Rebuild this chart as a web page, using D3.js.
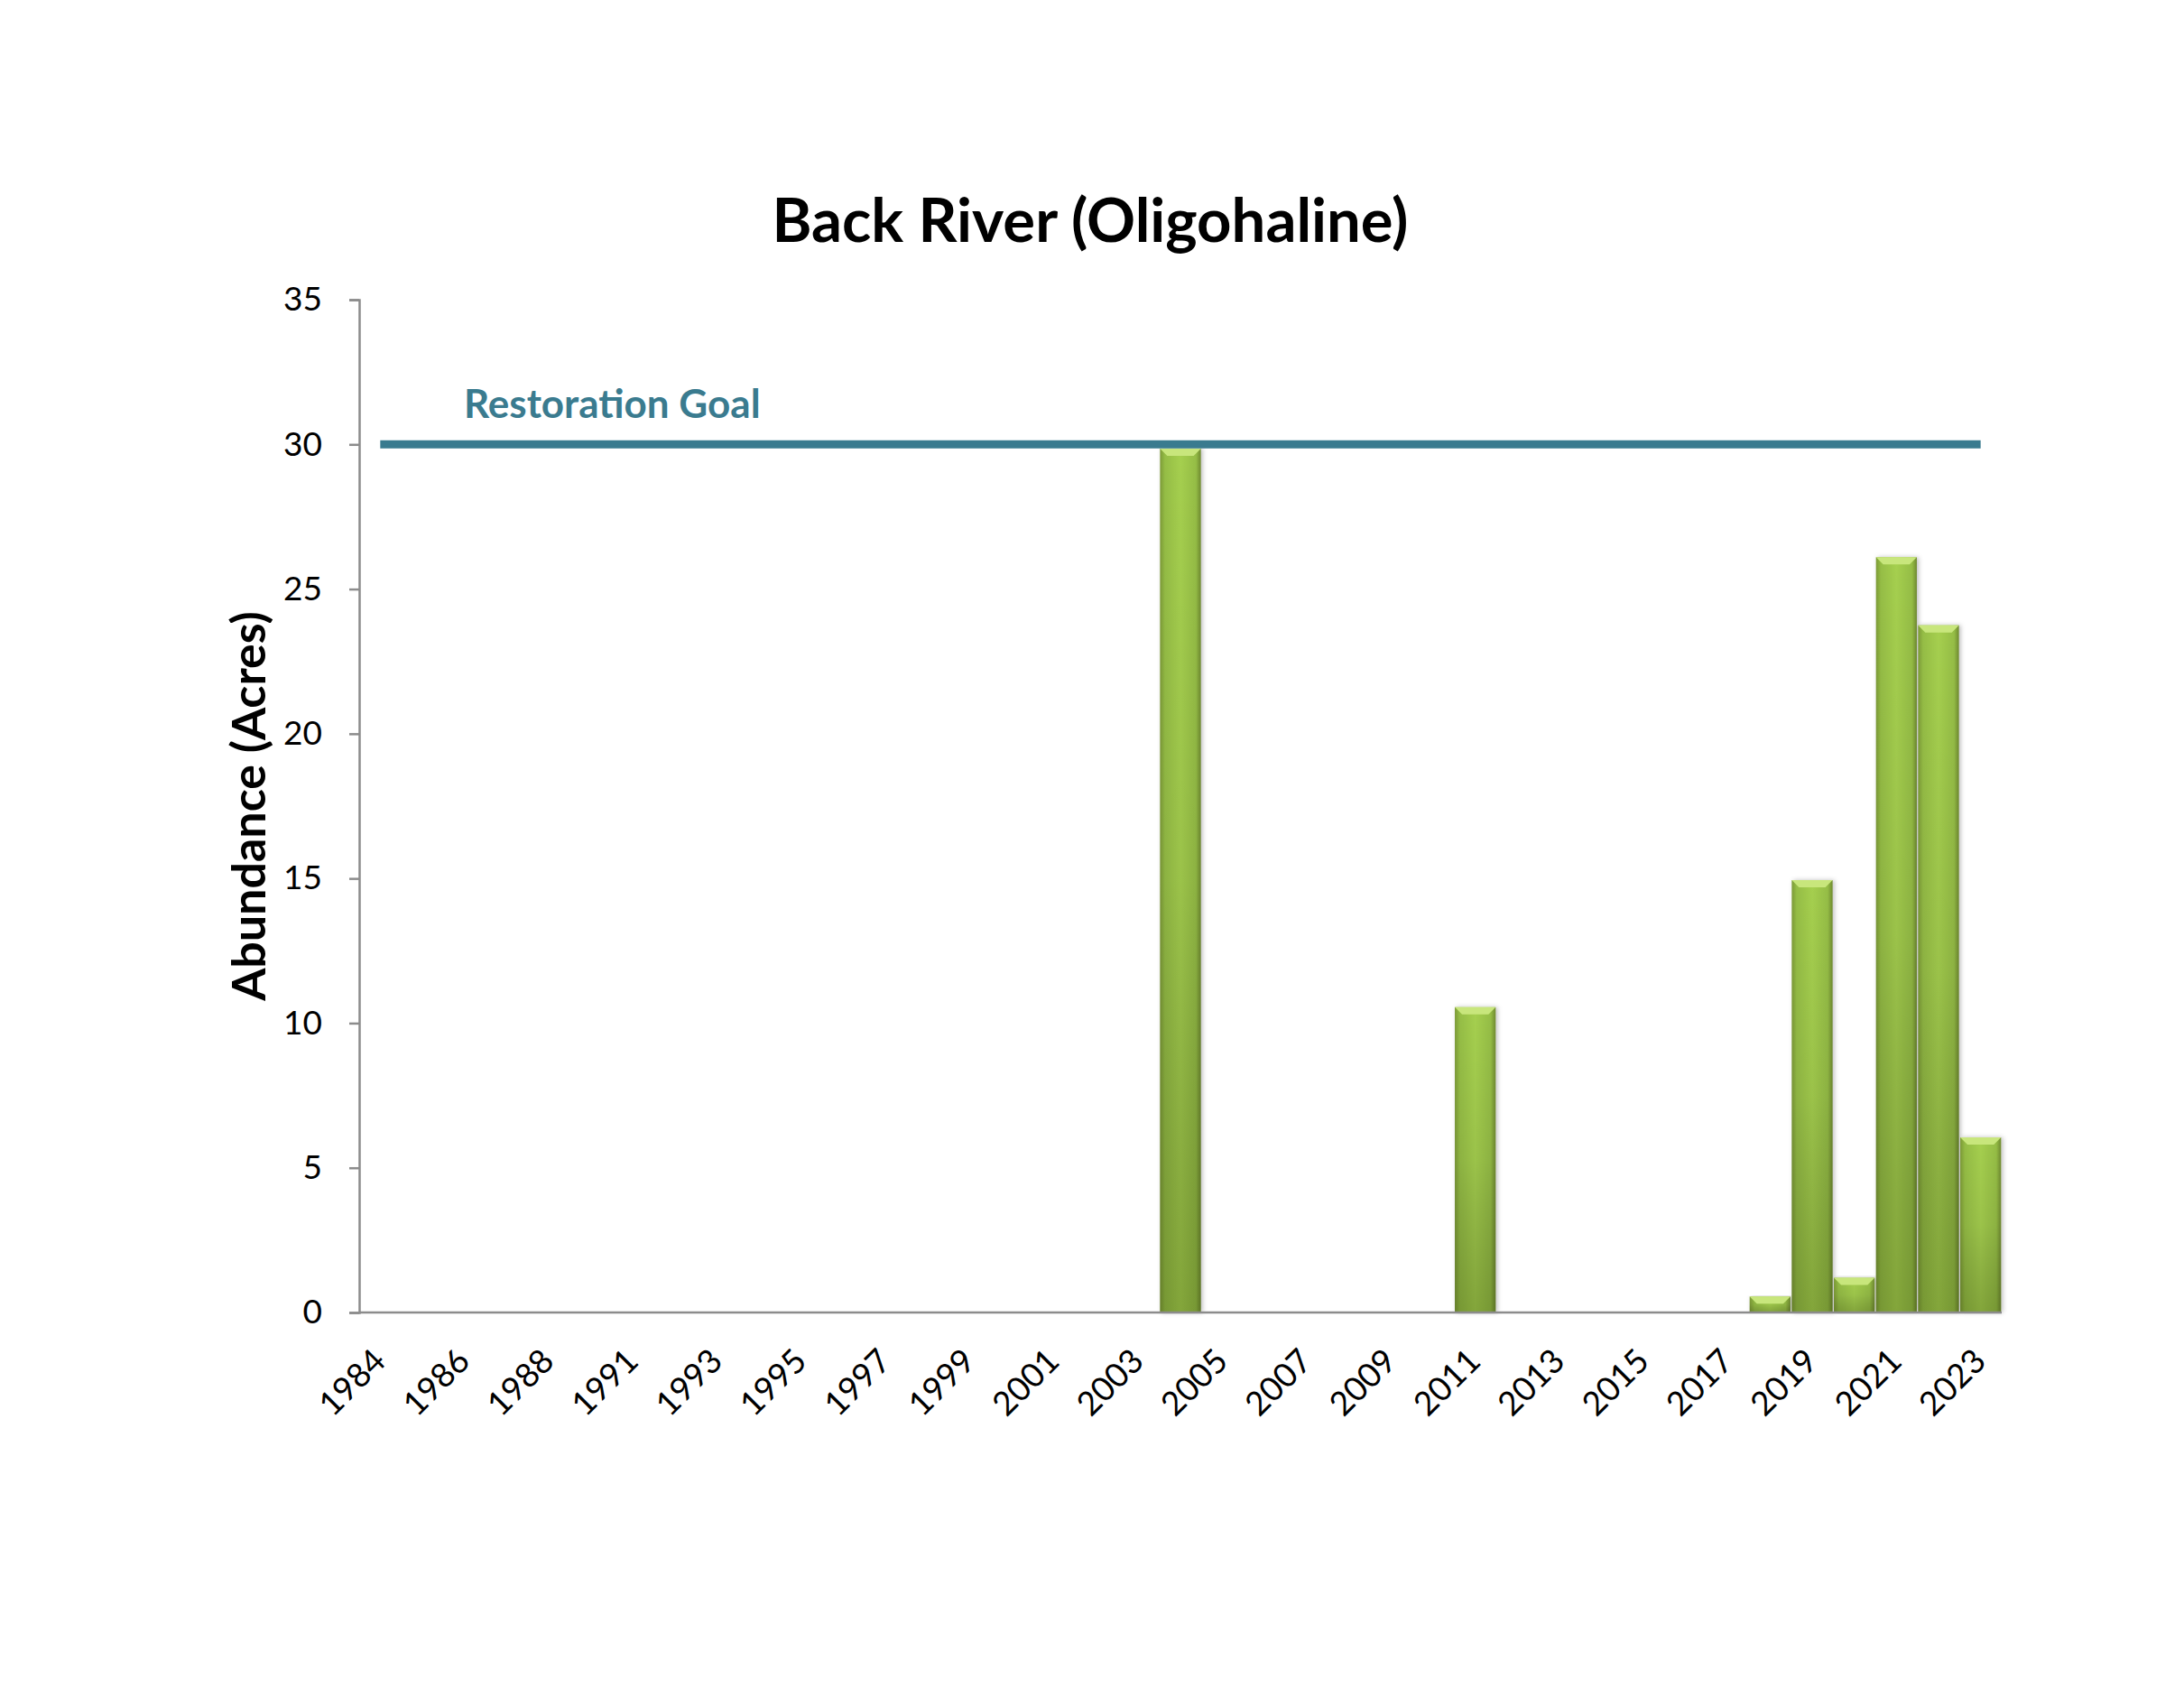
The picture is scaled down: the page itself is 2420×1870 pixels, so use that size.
<!DOCTYPE html>
<html>
<head>
<meta charset="utf-8">
<script src="https://cdn.jsdelivr.net/npm/d3@7"></script>
<style>
  html, body { margin: 0; padding: 0; background: #ffffff; }
  svg { display: block; }
  text { font-family: "Lato", "Open Sans", sans-serif; }
</style>
</head>
<body>
<script>
// ---- data ----
const years = [1984,1985,1986,1987,1988,1989,1991,1992,1993,1994,1995,1996,1997,1998,1999,2000,2001,2002,2003,2004,2005,2006,2007,2008,2009,2010,2011,2012,2013,2014,2015,2016,2017,2018,2019,2020,2021,2022,2023];
const acres = [0,0,0,0,0,0,0,0,0,0,0,0,0,0,0,0,0,0,0,29.85,0,0,0,0,0,0,10.55,0,0,0,0,0,0,0.55,14.94,1.2,26.1,23.75,6.05];
const goalValue = 30;
const goalLabel = "Restoration Goal";
const yTicks = [0,5,10,15,20,25,30,35];
const titleText = "Back River (Oligohaline)";
const yTitle = "Abundance (Acres)";

// ---- layout ----
const W = 2420, H = 1870;
const plotL = 398, plotR = 2218, plotT = 332, plotB = 1454;

const svg = d3.select("body").append("svg").attr("width", W).attr("height", H);
svg.append("rect").attr("width", W).attr("height", H).attr("fill", "#ffffff");

const x = d3.scaleBand().domain(years).range([plotL, plotR]).paddingInner(0.03).paddingOuter(0.015);
const y = d3.scaleLinear().domain([0, 35]).range([plotB, plotT]);

const defs = svg.append("defs");
const hg = defs.append("linearGradient").attr("id", "barH").attr("x1", "0").attr("x2", "1").attr("y1", "0").attr("y2", "0");
[[0, "#7c9a37"], [0.12, "#95bd45"], [0.5, "#a5cf4f"], [0.88, "#95bd45"], [1, "#6f8a30"]].forEach(s =>
  hg.append("stop").attr("offset", s[0]).attr("stop-color", s[1]));
const vg = defs.append("linearGradient").attr("id", "barV").attr("x1", "0").attr("x2", "0").attr("y1", "0").attr("y2", "1");
[[0, "#000", 0], [0.5, "#000", 0.06], [1, "#1e2a00", 0.25]].forEach(s =>
  vg.append("stop").attr("offset", s[0]).attr("stop-color", s[1]).attr("stop-opacity", s[2]));
const sh = defs.append("filter").attr("id", "shadow").attr("x", "-20%").attr("y", "-5%").attr("width", "140%").attr("height", "110%");
sh.append("feDropShadow").attr("dx", 2).attr("dy", 0).attr("stdDeviation", 2.5).attr("flood-color", "#000").attr("flood-opacity", 0.25);

// ---- title ----
svg.append("text").attr("x", 1208).attr("y", 268).attr("text-anchor", "middle")
  .attr("font-size", 67).attr("font-weight", 700).attr("fill", "#000").text(titleText);

// ---- y axis title ----
svg.append("text").attr("transform", `translate(294, ${(plotT + plotB) / 2}) rotate(-90)`)
  .attr("text-anchor", "middle").attr("font-size", 52).attr("font-weight", 700).attr("fill", "#000").text(yTitle);

// ---- bars ----
const data = years.map((yr, i) => ({ year: yr, value: acres[i] })).filter(d => d.value > 0);
const bars = svg.append("g");
const bg = bars.selectAll("g.bar").data(data).join("g").attr("class", "bar");
bg.append("rect")
  .attr("x", d => x(d.year)).attr("y", d => y(d.value))
  .attr("width", x.bandwidth()).attr("height", d => y(0) - y(d.value))
  .attr("fill", "url(#barH)").attr("filter", "url(#shadow)");
bg.append("rect")
  .attr("x", d => x(d.year)).attr("y", d => y(d.value))
  .attr("width", x.bandwidth()).attr("height", d => y(0) - y(d.value))
  .attr("fill", "url(#barV)");
// top bevel
bg.append("path")
  .attr("d", d => {
    const x0 = x(d.year), x1 = x0 + x.bandwidth(), yt = y(d.value);
    const b = Math.min(8, (y(0) - yt) / 2);
    return `M${x0},${yt}L${x1},${yt}L${x1 - b},${yt + b}L${x0 + b},${yt + b}Z`;
  })
  .attr("fill", "#c8e67c");

// ---- axes ----
const yAxis = svg.append("g").attr("transform", `translate(${plotL},0)`)
  .call(d3.axisLeft(y).tickValues(yTicks).tickSize(11).tickPadding(30).tickFormat(d3.format("d")));
yAxis.select(".domain").attr("stroke", "#8c8c8c").attr("stroke-width", 2.5);
yAxis.selectAll(".tick line").attr("stroke", "#8c8c8c").attr("stroke-width", 2.5);
yAxis.selectAll(".tick text").attr("font-size", 37).attr("fill", "#000").attr("font-family", "Lato, sans-serif");

const xAxis = svg.append("g").attr("transform", `translate(0,${plotB})`)
  .call(d3.axisBottom(x).tickSize(0).tickPadding(0).tickFormat((d, i) => i % 2 === 0 ? d : ""));
xAxis.select(".domain").attr("stroke", "#8c8c8c").attr("stroke-width", 2.5).attr("d", `M${plotL},0H${plotR}`);
xAxis.selectAll(".tick text")
  .attr("font-size", 37).attr("fill", "#000").attr("font-family", "Lato, sans-serif")
  .attr("text-anchor", "end").attr("dy", 0).attr("y", 0)
  .attr("transform", "translate(8,56) rotate(-45)");

// ---- restoration goal ----
const firstC = x(years[0]) + x.bandwidth() / 2;
const lastC = x(years[years.length - 1]) + x.bandwidth() / 2;
svg.append("line").attr("x1", firstC).attr("x2", lastC).attr("y1", y(goalValue)).attr("y2", y(goalValue))
  .attr("stroke", "#3a7b8f").attr("stroke-width", 9);
svg.append("text").attr("x", 514).attr("y", y(goalValue) - 29)
  .attr("font-size", 44).attr("font-weight", 700).attr("fill", "#3a7b8f").text(goalLabel);
</script>
</body>
</html>
